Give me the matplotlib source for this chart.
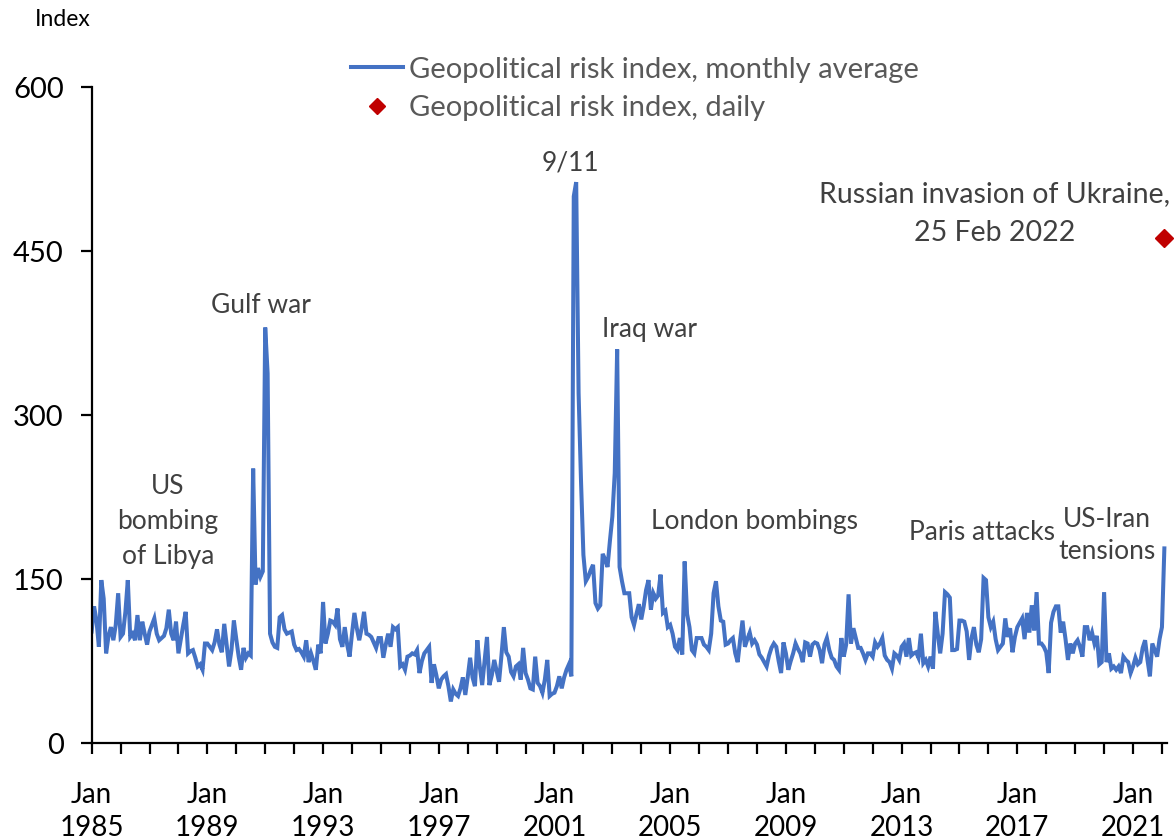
import numpy as np
import matplotlib
matplotlib.use("Agg")
import matplotlib.pyplot as plt
from matplotlib.lines import Line2D

plt.rcParams.update({"font.family": ["Lato", "DejaVu Sans"], "font.size": 19})

# monthly geopolitical risk index, Jan 1985 .. Feb 2022
gpr_1985 = [102, 125, 112, 88, 149, 132, 82, 98, 106, 94, 108, 137]
gpr_1986 = [97, 100, 120, 149, 97, 100, 94, 117, 94, 111, 100, 90]
gpr_1987 = [102, 108, 114, 100, 94, 96, 98, 105, 122, 100, 94, 111]
gpr_1988 = [82, 95, 108, 120, 82, 84, 85, 78, 70, 72, 67, 91]
gpr_1989 = [91, 88, 85, 92, 104, 90, 83, 109, 90, 70, 85, 112]
gpr_1990 = [95, 79, 67, 87, 78, 82, 80, 251, 145, 160, 152, 157]
gpr_1991 = [380, 338, 100, 92, 88, 87, 115, 117, 104, 100, 101, 102]
gpr_1992 = [90, 85, 86, 83, 79, 94, 74, 82, 75, 67, 90, 82]
gpr_1993 = [129, 91, 100, 112, 111, 108, 123, 95, 88, 106, 90, 79]
gpr_1994 = [100, 119, 105, 94, 105, 120, 100, 99, 97, 92, 87, 96]
gpr_1995 = [96, 78, 90, 100, 88, 106, 104, 106, 70, 72, 67, 79]
gpr_1996 = [80, 82, 81, 85, 64, 75, 82, 85, 88, 55, 72, 62]
gpr_1997 = [50, 58, 61, 63, 52, 38, 49, 45, 43, 50, 60, 44]
gpr_1998 = [60, 78, 60, 52, 94, 70, 53, 75, 97, 53, 62, 76]
gpr_1999 = [66, 56, 80, 106, 83, 79, 65, 61, 70, 72, 58, 87]
gpr_2000 = [64, 58, 50, 49, 79, 55, 52, 46, 58, 76, 43, 45]
gpr_2001 = [46, 52, 61, 50, 60, 67, 72, 61, 500, 513, 320, 240]
gpr_2002 = [172, 148, 152, 158, 163, 128, 123, 126, 173, 168, 161, 185]
gpr_2003 = [207, 247, 360, 161, 148, 137, 137, 137, 115, 108, 118, 127]
gpr_2004 = [113, 125, 140, 149, 122, 137, 132, 135, 154, 119, 121, 106]
gpr_2005 = [108, 100, 88, 85, 96, 81, 166, 118, 106, 85, 82, 96]
gpr_2006 = [96, 96, 90, 88, 85, 100, 137, 148, 125, 112, 111, 90]
gpr_2007 = [91, 94, 96, 82, 74, 94, 112, 88, 95, 101, 91, 94]
gpr_2008 = [90, 81, 78, 74, 70, 80, 87, 91, 88, 75, 64, 92]
gpr_2009 = [82, 67, 75, 82, 91, 86, 82, 74, 92, 91, 79, 90]
gpr_2010 = [92, 91, 85, 73, 90, 96, 85, 78, 76, 70, 67, 96]
gpr_2011 = [79, 90, 136, 91, 105, 96, 87, 87, 82, 76, 82, 82]
gpr_2012 = [79, 92, 88, 91, 96, 80, 76, 74, 68, 82, 80, 76]
gpr_2013 = [88, 91, 79, 96, 80, 82, 83, 78, 100, 73, 76, 70]
gpr_2014 = [79, 68, 120, 100, 82, 100, 138, 136, 133, 85, 85, 86]
gpr_2015 = [112, 112, 111, 102, 76, 96, 106, 90, 83, 95, 151, 149]
gpr_2016 = [115, 106, 111, 95, 85, 88, 91, 114, 97, 105, 83, 97]
gpr_2017 = [106, 110, 114, 95, 119, 101, 126, 103, 138, 91, 91, 88]
gpr_2018 = [83, 64, 110, 120, 125, 125, 101, 111, 95, 76, 91, 82]
gpr_2019 = [91, 94, 88, 79, 106, 106, 94, 101, 91, 98, 72, 74]
gpr_2020 = [138, 74, 82, 68, 70, 67, 70, 64, 79, 76, 74, 64]
gpr_2021 = [70, 78, 72, 74, 87, 94, 76, 61, 91, 85, 79, 95]
gpr_2022 = [106, 178]

monthly = (gpr_1985 + gpr_1986 + gpr_1987 + gpr_1988 + gpr_1989 + gpr_1990
           + gpr_1991 + gpr_1992 + gpr_1993 + gpr_1994 + gpr_1995 + gpr_1996
           + gpr_1997 + gpr_1998 + gpr_1999 + gpr_2000 + gpr_2001 + gpr_2002
           + gpr_2003 + gpr_2004 + gpr_2005 + gpr_2006 + gpr_2007 + gpr_2008
           + gpr_2009 + gpr_2010 + gpr_2011 + gpr_2012 + gpr_2013 + gpr_2014
           + gpr_2015 + gpr_2016 + gpr_2017 + gpr_2018 + gpr_2019 + gpr_2020
           + gpr_2021 + gpr_2022)
start_year = 1985
daily_month = 445          # Feb 2022
daily_value = 462          # 25 Feb 2022

BLUE = "#4472C4"
RED = "#C00000"
TXT = "#404040"
LEG = "#595959"

fig = plt.figure(figsize=(11.75, 8.39), dpi=100)
ax = fig.add_axes([0.078, 0.1144, 0.915, 0.7819])
months = np.arange(len(monthly))
ax.plot(months, monthly, color=BLUE, lw=2.9, solid_joinstyle="miter")
ax.plot([daily_month], [daily_value], marker="D", ms=9.5, color=RED, ls="none",
        clip_on=False, zorder=5)

ax.set_xlim(0, 446)
ax.set_ylim(0, 600)
ax.set_yticks([0, 150, 300, 450, 600])
years = np.arange(start_year, 2023)
ax.set_xticks((years - start_year) * 12)
ax.set_xticklabels([f"Jan\n{y}" if (y - start_year) % 4 == 0 else "" for y in years],
                   linespacing=1.35)
for s in ("top", "right"):
    ax.spines[s].set_visible(False)
for s in ("left", "bottom"):
    ax.spines[s].set_linewidth(1.6)
ax.tick_params(axis="y", length=8, width=1.6, pad=12, labelsize=21)
ax.tick_params(axis="x", length=8, width=1.6, pad=20, labelsize=20)

fig.text(35 / 1175, 1 - 19 / 839, "Index", fontsize=16.5, va="center", ha="left")

kw = dict(color=TXT, ha="center", va="center", fontsize=19, linespacing=1.35)
ax.text(70.3, 400, "Gulf war", **kw)
ax.text(31.6, 203, "US\nbombing\nof Libya", **dict(kw, linespacing=1.5))
ax.text(198.8, 530.5, "9/11", **kw)
ax.text(231.6, 378, "Iraq war", **kw)
ax.text(275.1, 203, "London bombings", **kw)
ax.text(369.3, 193, "Paris attacks", **kw)
ax.text(421.1, 190, "US-Iran\ntensions", **kw)
ax.text(374.5, 484, "Russian invasion of Ukraine,\n25 Feb 2022",
        **dict(kw, fontsize=20.5, linespacing=1.6))

handles = [Line2D([], [], color=BLUE, lw=2.9),
           Line2D([], [], color=RED, marker="D", ms=8, ls="none")]
fig.legend(handles, ["Geopolitical risk index, monthly average",
                     "Geopolitical risk index, daily"],
           loc="upper left", bbox_to_anchor=(339 / 1175, 1 - 45 / 839),
           frameon=False, fontsize=21, labelcolor=LEG, handlelength=1.8,
           handletextpad=0.2, labelspacing=0.42, borderaxespad=0)

fig.savefig("out.png", dpi=100)
